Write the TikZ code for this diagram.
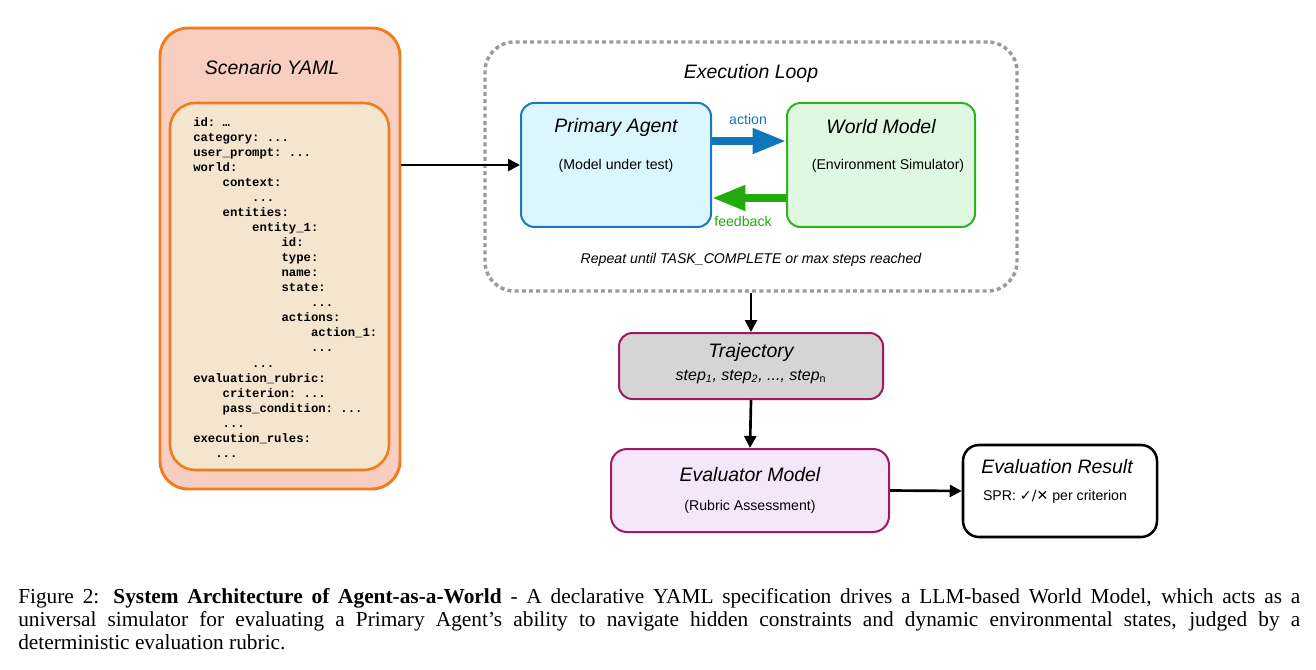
\documentclass[tikz,border=0pt]{standalone}
\usepackage{fontspec}
\setmainfont{Liberation Serif}
\setsansfont{Liberation Sans}
\setmonofont{Liberation Mono}
\newfontfamily\symfont{DejaVu Sans}
\usetikzlibrary{arrows.meta,calc}
\definecolor{yamlfill}{HTML}{F8CEC1}
\definecolor{yamlline}{HTML}{F07C1E}
\definecolor{codefill}{HTML}{F4E5CE}
\definecolor{pafill}{HTML}{DBF6FC}
\definecolor{paline}{HTML}{1B78BD}
\definecolor{wmfill}{HTML}{E0F8E2}
\definecolor{wmline}{HTML}{2CB31E}
\definecolor{actcol}{HTML}{0F76BC}
\definecolor{fbcol}{HTML}{22AA0F}
\definecolor{trajfill}{HTML}{D5D5D5}
\definecolor{maroon}{HTML}{A0185F}
\definecolor{evfill}{HTML}{F6E6FA}
\definecolor{loopgray}{HTML}{9A9A9A}
\newcommand\ind[1]{\hspace*{#1\dimexpr0.6em\relax}}
\begin{document}
\begin{tikzpicture}[x=0.75pt,y=-0.75pt,
  box/.style={draw, inner sep=0pt, rectangle},
  title/.style={font=\sffamily\itshape\fontsize{14.6}{17}\selectfont, inner sep=0pt},
  sub/.style={font=\sffamily\fontsize{10.6}{12.5}\selectfont, inner sep=0pt},
  arr/.style={line width=2pt, -{Triangle[length=9pt,width=9pt]}},
  fat/.style={line width=5.5pt, -{Triangle[length=25pt,width=18pt]}}]
\useasboundingbox (0,0) rectangle (1316,670);

% Scenario YAML
\node[box, draw=yamlline, fill=yamlfill, line width=2.2pt, rounded corners=21pt,
      minimum width=180pt, minimum height=345.75pt] (yaml) at (280,258.5) {};
\node[title] (yamlt) at (272,68) {Scenario YAML};
\node[box, draw=yamlline, fill=codefill, line width=1.9pt, rounded corners=19pt,
      minimum width=164.25pt, minimum height=275.25pt] (codebox) at (279.5,286.5) {};
\node[anchor=north west, inner sep=0pt, align=left,
      font=\ttfamily\bfseries\fontsize{9.2}{11.29}\selectfont] (code) at (193,117) {%
id: …\\
category: ...\\
user\_prompt: ...\\
world:\\
\ind{4}context:\\
\ind{8}...\\
\ind{4}entities:\\
\ind{8}entity\_1:\\
\ind{12}id:\\
\ind{12}type:\\
\ind{12}name:\\
\ind{12}state:\\
\ind{16}...\\
\ind{12}actions:\\
\ind{16}action\_1:\\
\ind{16}...\\
\ind{8}...\\
evaluation\_rubric:\\
\ind{4}criterion: ...\\
\ind{4}pass\_condition: ...\\
\ind{4}...\\
execution\_rules:\\
\ind{3}...};

% Execution loop
\node[box, draw=loopgray, line width=2.6pt, rounded corners=22pt,
      dash pattern=on 3pt off 2.4pt,
      minimum width=399pt, minimum height=186.75pt] (loop) at (751,166.5) {};
\node[title] (loopt) at (751,73) {Execution Loop};

\node[box, draw=paline, fill=pafill, line width=1.5pt, rounded corners=10pt,
      minimum width=142.5pt, minimum height=93pt] (pa) at (616,165) {};
\node[title] (pat) at (616,127) {Primary Agent};
\node[sub] (pas) at (616,166) {(Model under test)};

\node[box, draw=wmline, fill=wmfill, line width=1.5pt, rounded corners=10pt,
      minimum width=141pt, minimum height=93pt] (wm) at (881,165) {};
\node[title] (wmt) at (881,127) {World Model};
\node[sub] (wms) at (888,166) {(Environment Simulator)};

\draw[fat, actcol] ($(pa.east)+(0,-24)$) -- ($(wm.west)+(0,-24)$);
\draw[fat, fbcol] ($(wm.west)+(0,33)$) -- ($(pa.east)+(0,33)$);
\node[sub, text=actcol] (actl) at (748,119) {action};
\node[sub, text=fbcol] (fbl) at (743,221) {feedback};

\node[sub, font=\sffamily\itshape\fontsize{10.6}{12.5}\selectfont] (rep) at (751,260)
  {Repeat until TASK\_COMPLETE or max steps reached};

% Trajectory
\node[box, draw=maroon, fill=trajfill, line width=1.5pt, rounded corners=10pt,
      minimum width=198pt, minimum height=49.5pt] (traj) at (751,366) {};
\node[title] (trajt) at (751,352) {Trajectory};
\node[sub, font=\sffamily\itshape\fontsize{12}{14}\selectfont] (trajs) at (751,377)
  {step\textsubscript{1}, step\textsubscript{2}, ..., step\textsubscript{\upshape n}};

% Evaluator
\node[box, draw=maroon, fill=evfill, line width=1.5pt, rounded corners=12pt,
      minimum width=208.5pt, minimum height=62.25pt] (ev) at (750,490.5) {};
\node[title] (evt) at (750,475) {Evaluator Model};
\node[sub] (evs) at (750,507) {(Rubric Assessment)};

% Result
\node[box, draw=black, fill=white, line width=1.9pt, rounded corners=12pt,
      minimum width=145.5pt, minimum height=69pt] (res) at (1060,491) {};
\node[title] (rest) at (1057,467) {Evaluation Result};
\node[sub] (ress) at (1055,497) {SPR: {\symfont ✓/✕} per criterion};

% connectors
\draw[arr] (yaml.east |- pa.west) -- (pa.west);
\draw[arr] (loop.south) -- (traj.north);
\draw[arr] (traj.south) -- (ev.north);
\draw[arr] (ev.east) -- (res.west);

% caption
\node[anchor=north west, inner sep=0pt, text width=961.5pt, align=justify,
      font=\rmfamily\fontsize{16}{17.25}\selectfont] (cap) at (18,588) {%
Figure 2: \textbf{System Architecture of Agent-as-a-World} - A declarative YAML specification drives a LLM-based World Model, which acts as a\linebreak
universal simulator for evaluating a Primary Agent’s ability to navigate hidden constraints and dynamic environmental states, judged by a\linebreak
deterministic evaluation rubric.};
\end{tikzpicture}
\end{document}
